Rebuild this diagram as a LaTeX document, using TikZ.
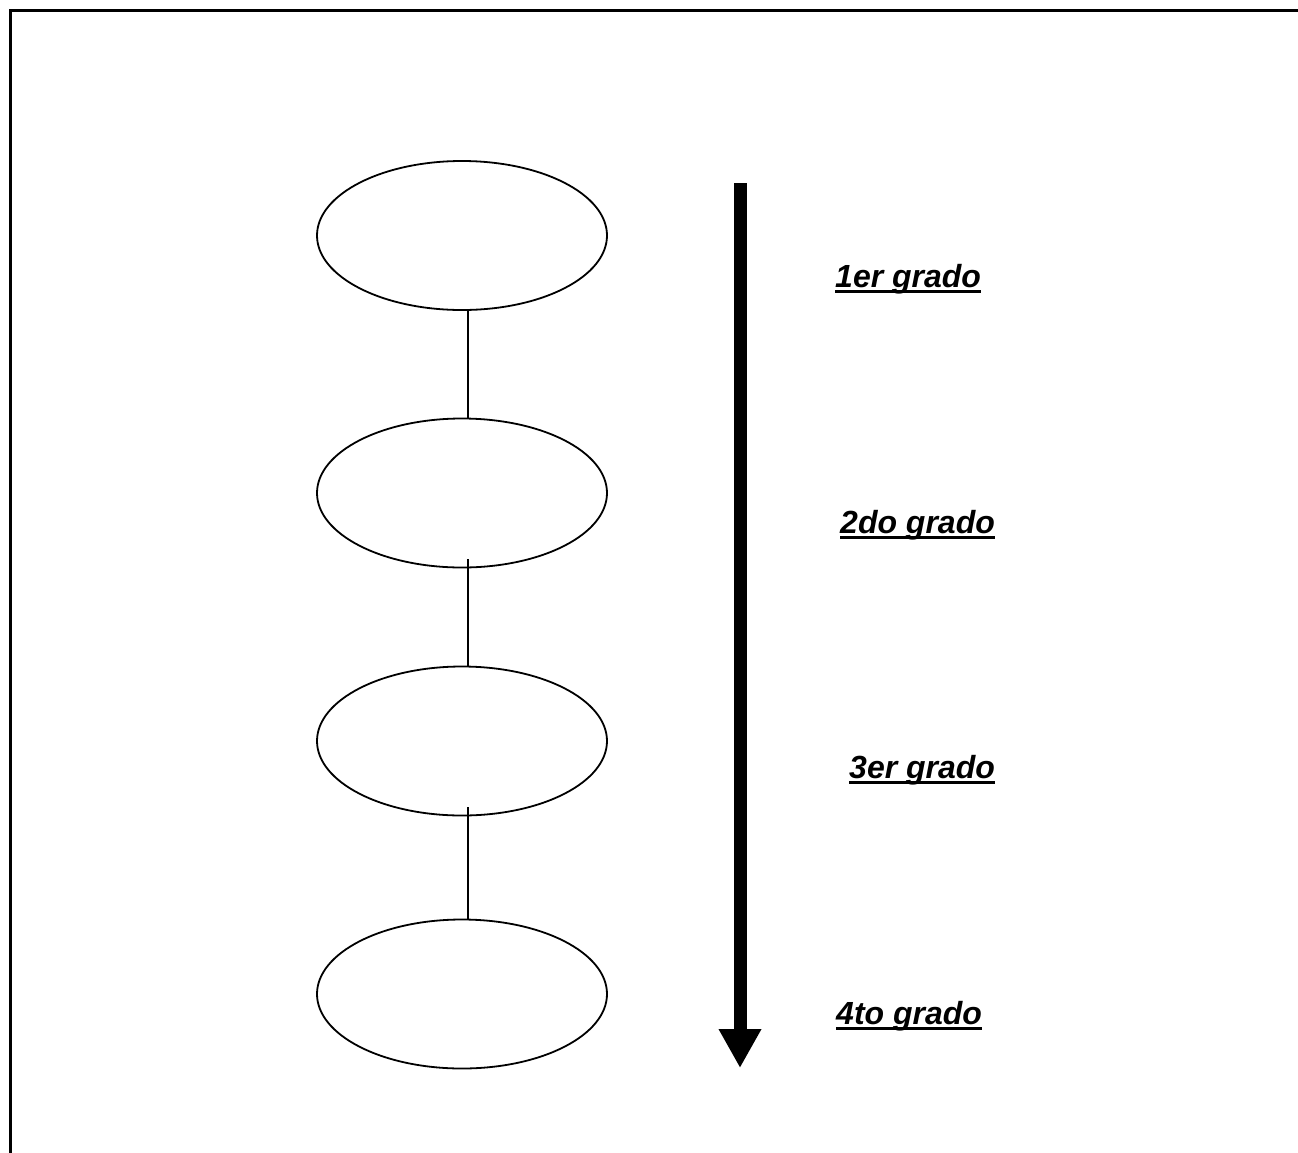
\documentclass[tikz,border=0pt]{standalone}
\usepackage{fontspec}
\setmainfont{Liberation Sans}
\usetikzlibrary{shapes.geometric,arrows.meta}
\tikzset{
  grade/.style={draw=black, line width=1.8pt, ellipse, minimum width=290pt, minimum height=149pt, inner sep=0pt},
  link/.style={draw=black, line width=1.4pt},
  lbl/.style={anchor=base west, inner sep=0pt, font=\fontsize{32}{38}\selectfont\bfseries\itshape},
  uline/.style={line width=2.8pt},
  frame/.style={line width=2.4pt}
}
\begin{document}
\begin{tikzpicture}[x=1pt,y=-1pt]
\useasboundingbox (0,0) rectangle (1298,1152);
% frame (top and left edges)
\coordinate (fl) at (10.5,1160);
\coordinate (fc) at (10.5,10.5);
\coordinate (fr) at (1305,10.5);
\draw[frame] (fl) -- (fc) -- (fr);
% ellipses
\node[grade] (e1) at (462,235.5) {};
\node[grade] (e2) at (462,493) {};
\node[grade] (e3) at (462,741) {};
\node[grade] (e4) at (462,994) {};
% connectors
\draw[link] ([xshift=6pt]e1.south) -- ([xshift=6pt,yshift=-1pt]e2.north);
\draw[link] ([xshift=6pt,yshift=9pt]e2.south) -- ([xshift=6pt,yshift=-1pt]e3.north);
\draw[link] ([xshift=6pt,yshift=9pt]e3.south) -- ([xshift=6pt,yshift=-1pt]e4.north);
% big arrow
\coordinate (atop) at (740,183);
\coordinate (abot) at (740,1068);
\draw[line width=13pt, -{Triangle[width=40pt,length=39pt]}] (atop) -- (abot);
% labels
\node[lbl] (t1) at (835,287) {1er grado};
\node[lbl] (t2) at (840,533) {2do grado};
\node[lbl] (t3) at (849,778) {3er grado};
\node[lbl] (t4) at (836,1024) {4to grado};
\draw[uline] ([yshift=-4.5pt]t1.base west) -- ([yshift=-4.5pt]t1.base east);
\draw[uline] ([yshift=-4.5pt]t2.base west) -- ([yshift=-4.5pt]t2.base east);
\draw[uline] ([yshift=-4.5pt]t3.base west) -- ([yshift=-4.5pt]t3.base east);
\draw[uline] ([yshift=-4.5pt]t4.base west) -- ([yshift=-4.5pt]t4.base east);
\end{tikzpicture}
\end{document}
